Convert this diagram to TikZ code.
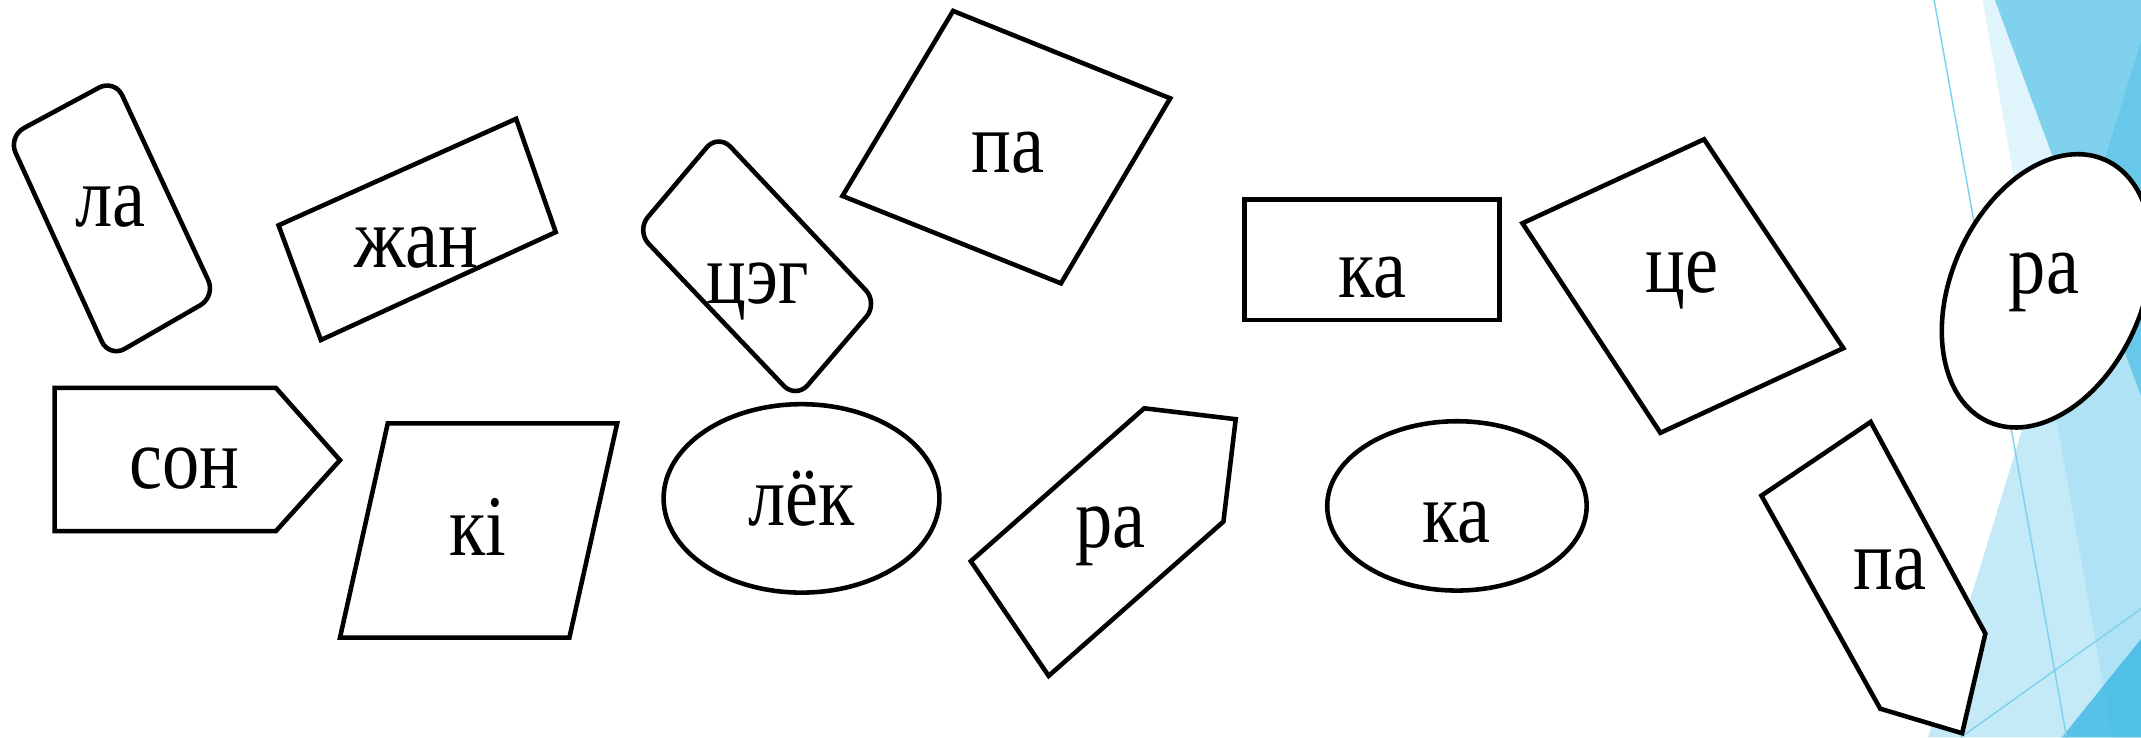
\documentclass[tikz,border=0pt]{standalone}
\usepackage{fontspec}
\setmainfont{Liberation Serif}
\newcommand{\tallword}[1]{\scalebox{1}[1.16]{#1}}

\begin{document}
\begin{tikzpicture}
[x = 0.2mm, y = -0.2mm, line join = miter,
figure/.style = {draw = black, line width = 1.9pt, fill = white},
soft corners/.style = {rounded corners = 2.6mm},
word/.style = {font = \fontsize{31}{38}\selectfont, anchor = base, inner sep = 0pt},
facet line/.style = {facetblue!60, line width = 0.6pt}]

\definecolor{facetblue}{RGB}{41, 178, 225}

\useasboundingbox (0, 0) rectangle (1568, 540);

\fill[facetblue, fill opacity = 0.15] (1452, 0) -- (1568, 0) -- (1568, 540) -- (1547, 540) -- cycle;
\fill[facetblue, fill opacity = 0.53] (1461, 0) -- (1568, 0) -- (1568, 290) -- cycle;
\fill[facetblue, fill opacity = 0.27] (1412, 540) -- (1568, 30) -- (1568, 540) -- cycle;
\fill[facetblue, fill opacity = 0.71] (1510, 540) -- (1568, 468) -- (1568, 540) -- cycle;
\draw[facet line] (1416.5, 0) -- (1513.5, 540);
\draw[facet line] (1436, 540) -- (1568, 446);

\draw[figure, soft corners] (6, 100) -- (84, 58) -- (158, 217) -- (80, 262) -- cycle;
\draw[figure] (204, 165) -- (378, 87) -- (407, 170) -- (235, 249) -- cycle;
\draw[figure, soft corners] (466, 169) -- (526, 98) -- (643, 222) -- (583, 292) -- cycle;
\draw[figure] (617, 143.5) -- (698, 8) -- (857, 72) -- (777, 207.5) -- cycle;
\draw[figure] (911.5, 146) rectangle (1098, 234.5);
\draw[figure] (1115, 163.5) -- (1248, 102) -- (1350, 255) -- (1216, 317) -- cycle;
\draw[figure, rotate around = {66:(1499, 213)}] (1499, 213) ellipse [x radius = 105, y radius = 70];

\draw[figure] (40, 284) -- (202, 284) -- (249, 337) -- (202, 389) -- (40, 389) -- cycle;
\draw[figure] (284, 310) -- (452, 310) -- (417, 467) -- (249, 467) -- cycle;
\draw[figure] (587, 365) ellipse [x radius = 101, y radius = 69];
\draw[figure] (711, 411) -- (838, 299) -- (905, 307) -- (896, 382) -- (768, 495) -- cycle;
\draw[figure] (1067, 370.5) ellipse [x radius = 95, y radius = 62];
\draw[figure] (1290, 363) -- (1370, 309) -- (1454, 464) -- (1437, 537) -- (1377, 519) -- cycle;

\foreach \name/\x/\y/\text in {la/81/166/ла, zhan/305/196/жан, tseg/555/222/цэг, patop/738/126/па,
  kabox/1005/218/ка, tse/1232/214/це, raoval/1497/215/ра, son/135/358/сон, ki/350/407/кі,
  lyok/587/385/лёк, raarrow/813/401/ра, kaoval/1067/397/ка, paarrow/1384/432/па}
  \node[word] (\name) at (\x, \y) {\tallword{\text}};
\end{tikzpicture}
\end{document}
